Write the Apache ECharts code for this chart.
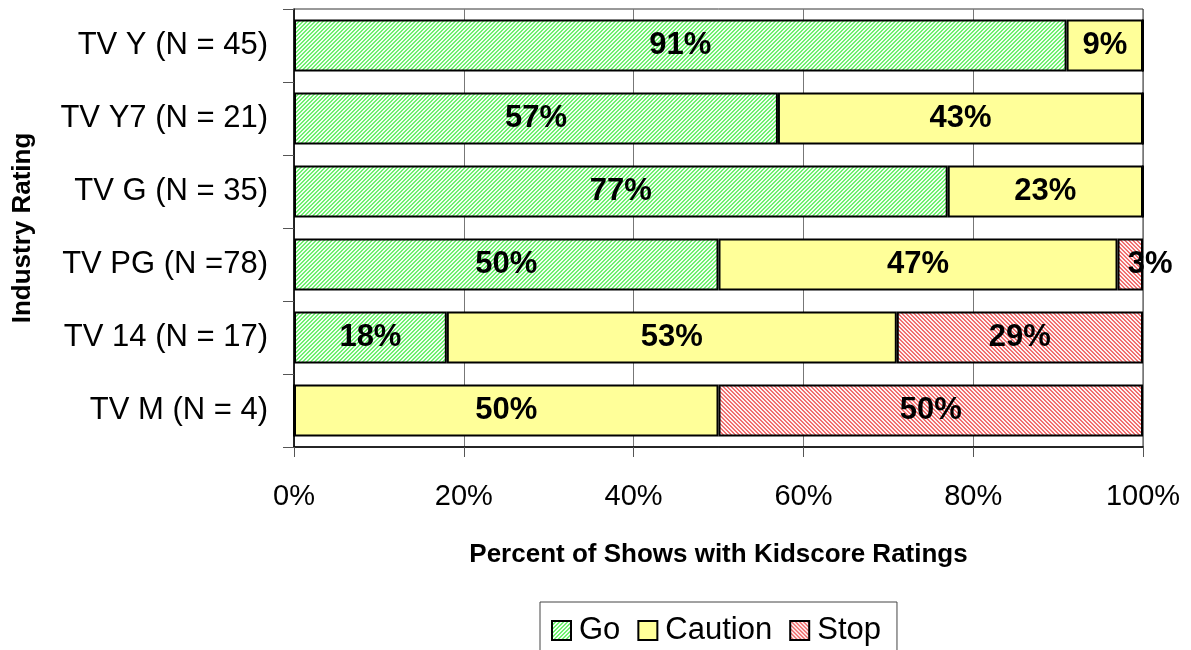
<!DOCTYPE html>
<html>
<head>
<meta charset="utf-8">
<script src="https://cdn.jsdelivr.net/npm/echarts@6/dist/echarts.min.js"></script>
<style>
  html, body { margin: 0; padding: 0; background: #fff; }
  #chart { width: 1191px; height: 650px; }
</style>
</head>
<body>
<div id="chart"></div>
<script>
// 数据
const categories = ['TV Y (N = 45)', 'TV Y7 (N = 21)', 'TV G (N = 35)', 'TV PG (N =78)', 'TV 14 (N = 17)', 'TV M (N = 4)'];
const goValues = [91, 57, 77, 50, 18, 0];
const cautionValues = [9, 43, 23, 47, 53, 50];
const stopValues = [0, 0, 0, 3, 29, 50];
const xTicks = [0, 20, 40, 60, 80, 100];

// 斜线填充
function hatch(bg, line, dir) {
    let c = document.createElement('canvas');
    c.width = 4; c.height = 4;
    let ctx = c.getContext('2d');
    ctx.fillStyle = bg;
    ctx.fillRect(0, 0, 4, 4);
    ctx.fillStyle = line;
    for (let i = 0; i < 4; i++) {
        let x = dir > 0 ? 3 - i : i;
        ctx.fillRect(x, i, 1, 1);
        ctx.fillRect((x + 1) % 4, i, 1, 1);
    }
    return { image: c, repeat: 'repeat' };
}

const goFill = hatch('#f2fff2', '#70f070', 1);
const stopFill = hatch('#fff2f2', '#f07070', -1);
const cautionFill = '#ffff99';

const chart = echarts.init(document.getElementById('chart'));

function makeSeries(name, data, fill) {
    return {
        name: name,
        type: 'bar',
        stack: 'all',
        barWidth: '71%',
        data: data.map(v => {
            let d = { value: v };
            if (name === 'Stop' && v === 3) {
                d.label = { offset: [20, 0] };
            }
            return d;
        }),
        itemStyle: { color: fill, borderColor: '#000', borderWidth: 2 },
        label: {
            show: true,
            position: 'inside',
            color: '#000',
            fontFamily: 'Liberation Sans, Arial',
            fontWeight: 'bold',
            fontSize: 31,
            formatter: p => p.value ? p.value + '%' : ''
        },
        emphasis: { disabled: true }
    };
}

chart.setOption({
    animation: false,
    textStyle: { fontFamily: 'Liberation Sans, Arial' },
    grid: {
        left: 294, right: 48, top: 9, bottom: 203,
        show: true, borderColor: '#333', borderWidth: 1
    },
    legend: {
        top: 602,
        left: 540,
        padding: [13, 16, 20, 11],
        borderColor: '#444',
        borderWidth: 1,
        itemWidth: 19,
        itemHeight: 19,
        itemGap: 17,
        icon: 'rect',
        textStyle: { fontSize: 31, color: '#000', padding: [0, 0, 0, 3] },
        data: ['Go', 'Caution', 'Stop']
    },
    xAxis: {
        type: 'value',
        min: 0, max: 100, interval: 20,
        name: 'Percent of Shows with Kidscore Ratings',
        nameLocation: 'middle',
        nameGap: 95,
        nameTextStyle: { fontSize: 26, fontWeight: 'bold', color: '#000' },
        axisLine: { show: true, lineStyle: { color: '#000', width: 1.5 } },
        axisTick: { show: true, length: 10, lineStyle: { color: '#555' } },
        splitLine: { show: true, lineStyle: { color: '#777', width: 1 } },
        axisLabel: {
            fontSize: 29, color: '#000', margin: 35,
            formatter: v => xTicks.includes(v) ? v + '%' : ''
        }
    },
    yAxis: {
        type: 'category',
        inverse: true,
        data: categories,
        name: 'Industry Rating',
        nameLocation: 'middle',
        nameGap: 258,
        nameTextStyle: { fontSize: 26, fontWeight: 'bold', color: '#000' },
        axisLine: { show: true, lineStyle: { color: '#000', width: 1.5 } },
        axisTick: { show: true, length: 11, lineStyle: { color: '#555' } },
        axisLabel: { fontSize: 31, color: '#000', margin: 26 }
    },
    series: [
        makeSeries('Go', goValues, goFill),
        makeSeries('Caution', cautionValues, cautionFill),
        makeSeries('Stop', stopValues, stopFill)
    ]
});
</script>
</body>
</html>
